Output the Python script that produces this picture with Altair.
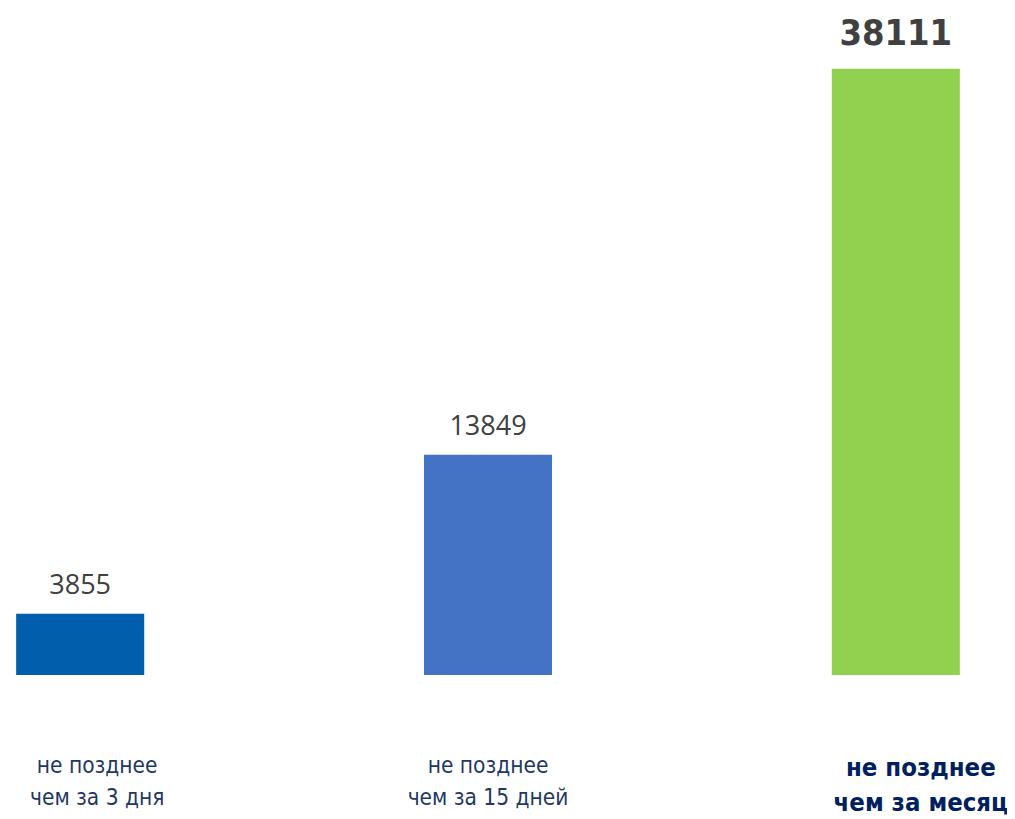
import altair as alt
import pandas as pd

categories = ["не позднее\nчем за 3 дня", "не позднее\nчем за 15 дней", "не позднее\nчем за месяц"]
values = [3855, 13849, 38111]
colors = ["#005EAC", "#4472C4", "#92D050"]

df = pd.DataFrame({"cat": categories, "value": values, "order": [0, 1, 2]})

ymax = max(values) * 1.1
xenc = alt.X("cat:N", sort=categories, axis=None,
             scale=alt.Scale(paddingInner=0.686, paddingOuter=0.02))
yenc = alt.Y("value:Q", axis=None, scale=alt.Scale(domain=[0, ymax], nice=False))
yzero = alt.Y("zero:Q", axis=None, scale=alt.Scale(domain=[0, ymax], nice=False))

COND = "DejaVu Sans Condensed, Roboto, sans-serif"

base = alt.Chart(df)

bars = base.mark_bar().encode(
    x=xenc, y=yenc,
    color=alt.Color("cat:N", sort=categories, scale=alt.Scale(domain=categories, range=colors), legend=None),
)

vals_reg = base.transform_filter("datum.order < 2").mark_text(
    baseline="alphabetic", dy=-20, font="Open Sans", fontSize=27, color="#404040"
).encode(x=xenc, y=yenc, text=alt.Text("value:Q", format="d"))

vals_bold = base.transform_filter("datum.order == 2").mark_text(
    baseline="alphabetic", dy=-24, font=COND,
    fontSize=36, fontWeight="bold", color="#404040"
).encode(x=xenc, y=yenc, text=alt.Text("value:Q", format="d"))

def cat_label(order, dx, dy, size, weight, color, lh):
    return base.transform_filter(f"datum.order == {order}").transform_calculate(zero="0").mark_text(
        baseline="alphabetic", dy=dy, dx=dx, lineBreak="\n", lineHeight=lh,
        font=COND, fontSize=size, fontWeight=weight, color=color
    ).encode(x=xenc, y=yzero, text="cat:N")

lab1 = cat_label(0, 17, 98, 22.5, "normal", "#1F3864", 32)
lab2 = cat_label(1, 0, 98, 22.5, "normal", "#1F3864", 32)
lab3 = cat_label(2, 25, 101, 25.5, "bold", "#002060", 35)

chart = alt.layer(bars, vals_reg, vals_bold, lab1, lab2, lab3).properties(
    width=960, height=667,
    padding={"left": 0, "top": 0, "right": 39, "bottom": 150},
    autosize=alt.AutoSizeParams(type="none"),
).configure(background="white").configure_view(stroke=None, strokeWidth=0)

chart.save("out.html", embed_options={"renderer": "svg", "actions": False})
